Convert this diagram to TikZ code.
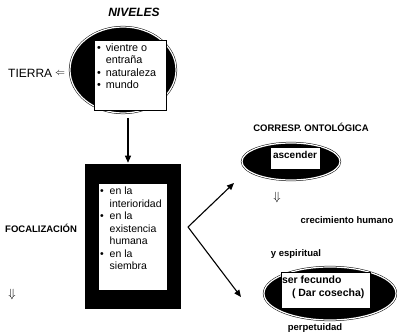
\documentclass[tikz,border=0pt]{standalone}
\usepackage{fontspec}
\setmainfont{Liberation Sans}
\usetikzlibrary{shapes.geometric,arrows.meta}
\begin{document}
\begin{tikzpicture}[x=1pt,y=-1pt,
  blob/.style={ellipse, fill=black, draw=black, line width=0.5pt, double=white, double distance=1.2pt, inner sep=0pt},
  frame/.style={rectangle, fill=black, draw=black, line width=0.5pt, double=white, double distance=1.2pt, inner sep=0pt},
  wbox/.style={rectangle, fill=white, draw=black, line width=0.4pt, inner sep=0pt},
  boxtext/.style={inner sep=0pt, align=left, font=\fontsize{10.5}{12.5}\selectfont},
  arr/.style={-{Triangle[length=7pt,width=6pt]}, line width=1.1pt},
  lbl/.style={inner sep=0pt, font=\bfseries\fontsize{9.5}{11}\selectfont},
  dbl/.style={inner sep=0pt, font=\large},
]
\useasboundingbox (0,0) rectangle (397,334);

% titles and side labels
\node[inner sep=0pt, font=\bfseries\itshape\fontsize{12}{14}\selectfont] (niv) at (134,12) {NIVELES};
\node[inner sep=0pt, anchor=west, font=\fontsize{12}{14}\selectfont] (tierra) at (8,73) {TIERRA};
\node[inner sep=0pt] (larr) at (60,74) {$\Leftarrow$};
\node[lbl, anchor=west] (foc) at (5,228) {FOCALIZACIÓN};
\node[dbl] (d1) at (12,295) {$\Downarrow$};

% top ellipse
\node[blob, minimum width=106pt, minimum height=86pt] (e1) at (123,70) {};
\node[wbox, minimum width=72pt, minimum height=70pt] (b1) at (130,75) {};
\node[boxtext, anchor=north west, font=\fontsize{10.8}{12.3}\selectfont] (t1) at ([shift={(3,3)}]b1.north west)
 {\begin{tabular}{@{}l@{\hspace{5pt}}l@{}}\textbullet & vientre o\\ & entraña\\ \textbullet & naturaleza\\ \textbullet & mundo\end{tabular}};

% focal rectangle
\node[frame, minimum width=98pt, minimum height=147pt] (r1) at (133,236.5) {};
\node[wbox, minimum width=69pt, minimum height=107pt] (b2) at (132.5,236.5) {};
\node[boxtext, anchor=north west] (t2) at ([shift={(2,3)}]b2.north west)
 {\begin{tabular}{@{}l@{\hspace{6pt}}l@{}}\textbullet & en la\\ & interioridad\\ \textbullet & en la\\ & existencia\\ & humana\\ \textbullet & en la\\ & siembra\end{tabular}};

% arrow top -> rect
\coordinate (a1) at (128,118);
\draw[arr] (a1) -- (a1 |- r1.north);

% right side
\node[lbl] (corr) at (311,127) {CORRESP. ONTOLÓGICA};
\node[blob, minimum width=98pt, minimum height=37pt] (e2) at (291,161.5) {};
\node[wbox, minimum width=50pt, minimum height=22pt] (b3) at (295,158) {};
\node[inner sep=0pt, font=\bfseries\fontsize{10}{12}\selectfont] (t3) at (295,154.5) {ascender};
\node[dbl] (d2) at (277,198) {$\Downarrow$};
\node[lbl] (crec) at (347,220) {crecimiento humano};
\node[lbl] (yesp) at (296,254) {y espiritual};
\node[blob, minimum width=132pt, minimum height=53pt] (e3) at (330,293.5) {};
\node[wbox, minimum width=89pt, minimum height=36pt] (b4) at (325.5,290) {};
\node[boxtext, anchor=north west, font=\bfseries\fontsize{10.5}{13}\selectfont] (t4) at ([shift={(1,4)}]b4.north west)
 {ser fecundo\\\hspace{10pt}( Dar cosecha)};
\node[lbl] (perp) at (315,328) {perpetuidad};

% angled arrows
\coordinate (v) at (188,227);
\coordinate (up) at (234,183);
\coordinate (dn) at (241,297);
\draw[arr] (v) -- (up);
\draw[arr] (v) -- (dn);
\end{tikzpicture}
\end{document}
